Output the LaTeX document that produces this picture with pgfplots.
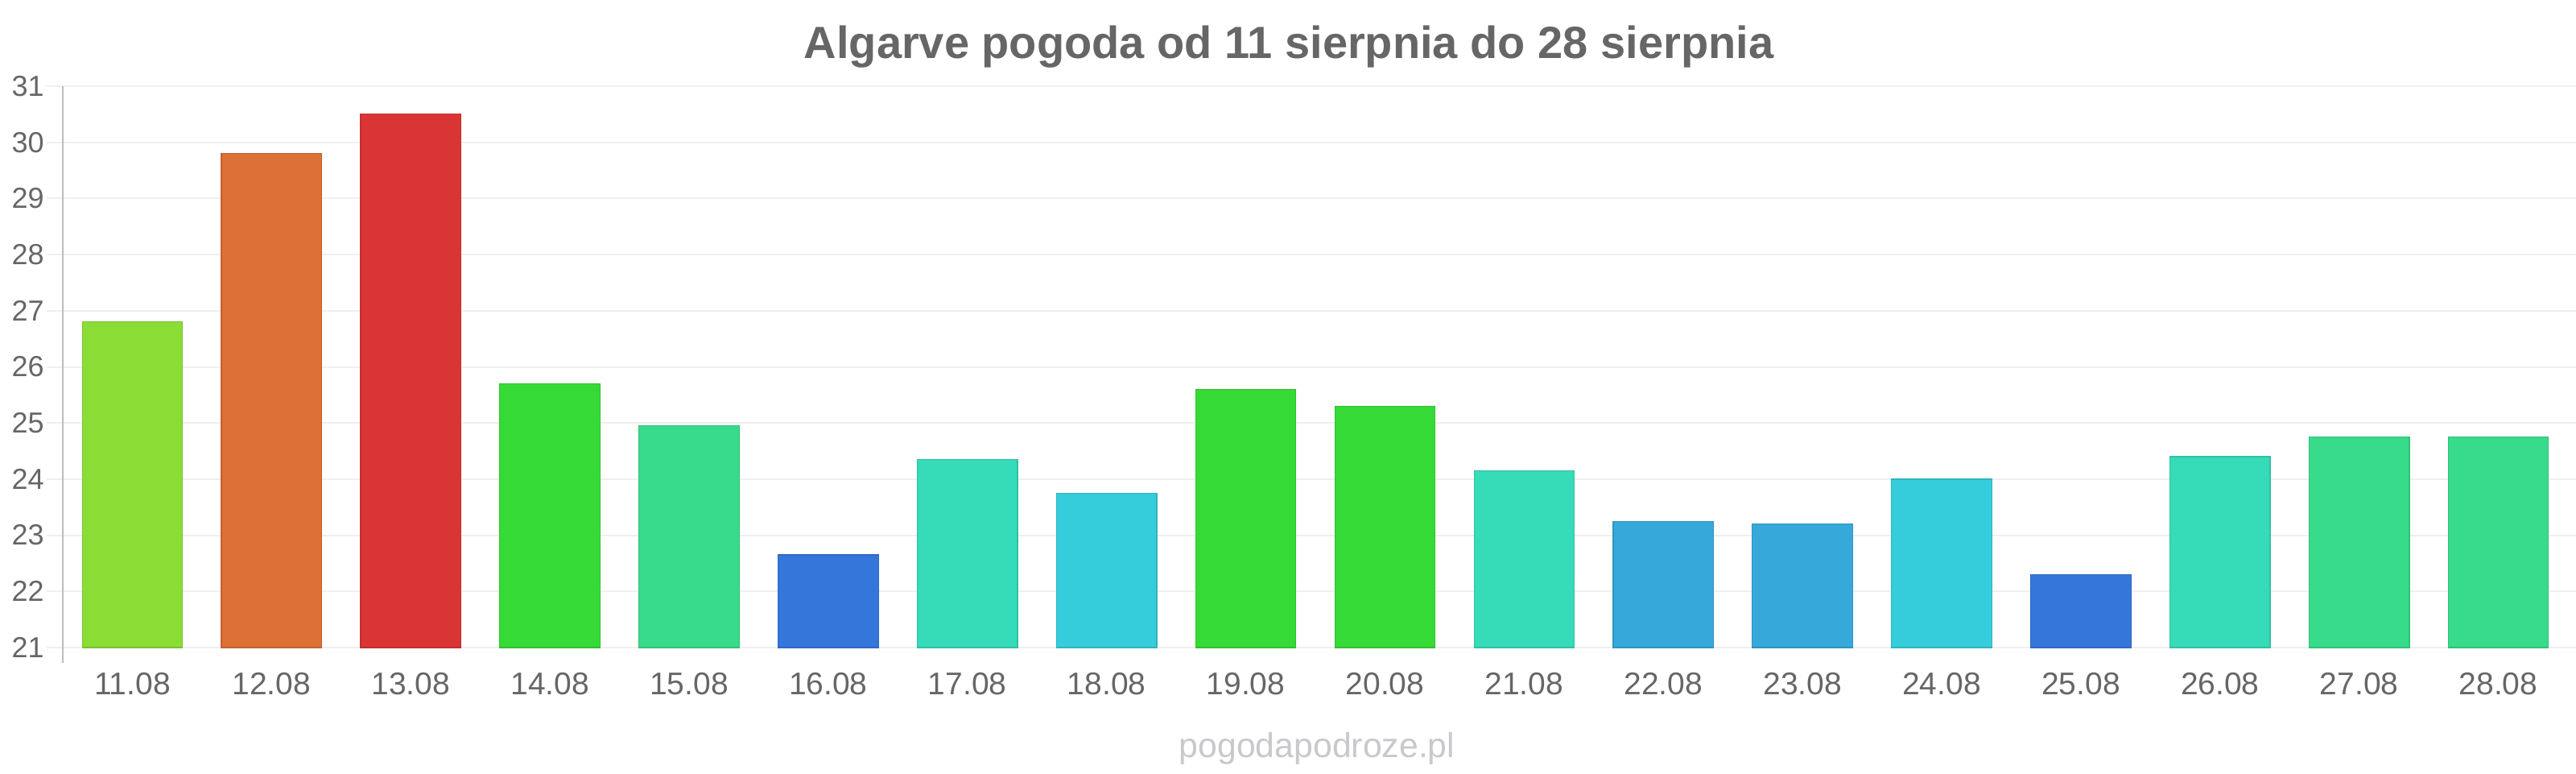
\documentclass[border=0pt]{standalone}
\usepackage{pgfplots}
\pgfplotsset{compat=1.18}
\usepackage{fontspec}
\setmainfont{Liberation Sans}
\definecolor{txt}{HTML}{666666}
\definecolor{wm}{HTML}{C8C8CD}
\definecolor{gridc}{HTML}{EFEFEF}
\definecolor{axisc}{HTML}{BDBDBD}
\definecolor{cLime}{HTML}{8ADD35}
\definecolor{cOrange}{HTML}{DC7035}
\definecolor{cRed}{HTML}{DA3535}
\definecolor{cGreen}{HTML}{36DA36}
\definecolor{cMint}{HTML}{37DB8A}
\definecolor{cBlue}{HTML}{3576DB}
\definecolor{cTurq}{HTML}{36DBB8}
\definecolor{cCyan}{HTML}{35CDDB}
\definecolor{cSky}{HTML}{36A8DA}
\pgfplotsset{mybar/.style={ybar, bar width=0.72, bar shift=0pt, fill=#1, draw=#1!88!black, line width=0.6pt}}
\begin{document}
\begin{tikzpicture}
\path[use as bounding box] (-39pt,-78pt) rectangle (1561pt,402pt);
\begin{axis}[at={(0,0)}, anchor=south west, scale only axis,
  width=1556pt, height=348.5pt,
  xmin=-0.5, xmax=17.5, ymin=21, ymax=31,
  ytick={21,22,...,31},
  xtick={0,1,...,17},
  xticklabels={11.08,12.08,13.08,14.08,15.08,16.08,17.08,18.08,19.08,20.08,21.08,22.08,23.08,24.08,25.08,26.08,27.08,28.08},
  axis line style={draw=none},
  ymajorgrids, grid style={draw=gridc, line width=1pt},
  tick align=outside, major tick length=10pt,
  ytick style={draw=gridc, line width=1pt},
  xtick style={draw=none},
  /pgf/number format/assume math mode=true,
  yticklabel style={font=\fontsize{18}{20}\selectfont, text=txt, anchor=east, inner sep=0pt, xshift=-1.5pt},
  xticklabel style={font=\fontsize{19.5}{22}\selectfont, text=txt, anchor=base, inner sep=0pt, yshift=-19pt},
]
\addplot[mybar=cLime] coordinates {(0,26.8)};
\addplot[mybar=cOrange] coordinates {(1,29.8)};
\addplot[mybar=cRed] coordinates {(2,30.5)};
\addplot[mybar=cGreen] coordinates {(3,25.7)};
\addplot[mybar=cMint] coordinates {(4,24.95)};
\addplot[mybar=cBlue] coordinates {(5,22.65)};
\addplot[mybar=cTurq] coordinates {(6,24.35)};
\addplot[mybar=cCyan] coordinates {(7,23.75)};
\addplot[mybar=cGreen] coordinates {(8,25.6)};
\addplot[mybar=cGreen] coordinates {(9,25.3)};
\addplot[mybar=cTurq] coordinates {(10,24.15)};
\addplot[mybar=cSky] coordinates {(11,23.25)};
\addplot[mybar=cSky] coordinates {(12,23.2)};
\addplot[mybar=cCyan] coordinates {(13,24.0)};
\addplot[mybar=cBlue] coordinates {(14,22.3)};
\addplot[mybar=cTurq] coordinates {(15,24.4)};
\addplot[mybar=cMint] coordinates {(16,24.75)};
\addplot[mybar=cMint] coordinates {(17,24.75)};
\end{axis}
\draw[axisc, line width=1pt] (0,348.5pt) -- (0,-9.5pt);
\node[anchor=base, font=\fontsize{28}{30}\selectfont\bfseries, text=txt] at (761.5pt,365.5pt) {Algarve pogoda od 11 sierpnia do 28 sierpnia};
\node[anchor=base, font=\fontsize{21.4}{24}\selectfont, text=wm] at (779pt,-68pt) {pogodapodroze.pl};
\end{tikzpicture}
\end{document}
